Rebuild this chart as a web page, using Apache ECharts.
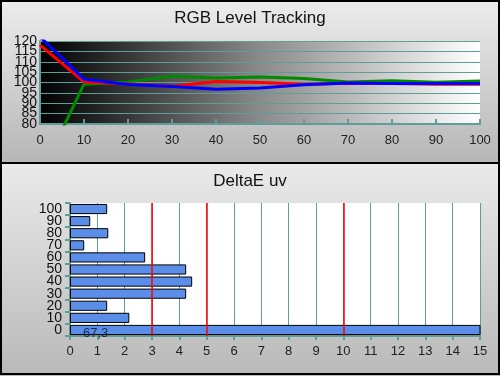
<!DOCTYPE html>
<html>
<head>
<meta charset="utf-8">
<script src="https://cdn.jsdelivr.net/npm/echarts@6/dist/echarts.min.js"></script>
<style>
  html, body { margin: 0; padding: 0; background: #fff; }
  #main { width: 500px; height: 376px; }
</style>
</head>
<body>
<div id="main"></div>
<script>
  // RGB level tracking (stimulus % -> level)
  var levels = [0, 10, 20, 30, 40, 50, 60, 70, 80, 90, 100];
  var redLevel = [118, 100.3, 99.3, 98.2, 100.5, 100, 99.2, 99.6, 99.5, 99.2, 99.2];
  var greenLevel = [55, 99.2, 100.3, 103, 102.2, 102.6, 101.9, 100.2, 100.9, 100.1, 100.7];
  var blueLevel = [122, 101.6, 99, 98.1, 96.8, 97.4, 98.9, 99.7, 99.5, 99.5, 99.5];
  // level tick labels, split in two sets so none get hidden as overlapping
  var levelTicksEven = [80, 90, 100, 110, 120];
  var levelTicksOdd = [85, 95, 105, 115];

  // DeltaE uv per level
  var deltaCats = ['0', '10', '20', '30', '40', '50', '60', '70', '80', '90', '100'];
  var deltaVals = [67.3, 2.17, 1.36, 4.25, 4.47, 4.25, 2.75, 0.52, 1.4, 0.74, 1.36];
  var deltaLimits = [3, 5, 10];

  var teal = '#5f9d98';
  var font = 'Liberation Sans, Arial, sans-serif';

  function lineSeries(data, color) {
    return {
      type: 'line',
      xAxisIndex: 0,
      yAxisIndex: 0,
      data: levels.map(function (l, i) { return [l, data[i]]; }),
      symbol: 'none',
      clip: true,
      lineStyle: { color: color, width: 3 },
      itemStyle: { color: color }
    };
  }

  function panelFill(top, bottom) {
    return new echarts.graphic.LinearGradient(0, 0, 0, 1, [
      { offset: 0, color: top },
      { offset: 1, color: bottom }
    ]);
  }

  function levelLabels(values) {
    return { fontFamily: font, fontSize: 14, color: '#111', margin: 3,
      customValues: values, showMinLabel: true, showMaxLabel: true, hideOverlap: false };
  }

  var chart = echarts.init(document.getElementById('main'));
  chart.setOption({
    animation: false,
    backgroundColor: '#ffffff',
    graphic: [
      { type: 'rect', z: -10, shape: { x: 0, y: 0, width: 500, height: 163 },
        style: { fill: panelFill('#ececec', '#b6b6b6') } },
      { type: 'rect', z: -10, shape: { x: 0, y: 163, width: 500, height: 213 },
        style: { fill: panelFill('#eaeaea', '#b9b9b9') } },
      { type: 'rect', z: 100, shape: { x: 1, y: 1, width: 498, height: 373 },
        style: { fill: null, stroke: '#000', lineWidth: 2 } },
      { type: 'line', z: 100, shape: { x1: 0, y1: 163, x2: 500, y2: 163 },
        style: { stroke: '#000', lineWidth: 2 } }
    ],
    title: [
      { text: 'RGB Level Tracking', left: 'center', top: 5,
        textStyle: { fontFamily: font, fontSize: 17, fontWeight: 'normal', color: '#111' } },
      { text: 'DeltaE uv', left: 'center', top: 168,
        textStyle: { fontFamily: font, fontSize: 17, fontWeight: 'normal', color: '#111' } }
    ],
    grid: [
      { left: 40, right: 20, top: 41, height: 83, show: true, borderWidth: 0,
        backgroundColor: new echarts.graphic.LinearGradient(0, 0, 1, 0, [
          { offset: 0, color: '#000000' },
          { offset: 0.5, color: '#8a8a8a' },
          { offset: 1, color: '#ffffff' }
        ]) },
      { left: 70, right: 20, top: 203, height: 133, show: true, borderWidth: 0,
        backgroundColor: '#ffffff' }
    ],
    xAxis: [
      { type: 'value', gridIndex: 0, min: 0, max: 100, interval: 10,
        axisLine: { show: true, lineStyle: { color: teal, width: 2 } },
        axisTick: { show: true, inside: true, length: 5, lineStyle: { color: teal, width: 2 } },
        axisLabel: { fontFamily: font, fontSize: 13, color: '#222', margin: 10,
          showMinLabel: true, showMaxLabel: true, hideOverlap: false },
        splitLine: { show: false } },
      { type: 'value', gridIndex: 1, min: 0, max: 15, interval: 1,
        axisLine: { show: true, lineStyle: { color: teal, width: 2 } },
        axisTick: { show: true, length: 4, lineStyle: { color: teal, width: 2 } },
        axisLabel: { fontFamily: font, fontSize: 13, color: '#222', margin: 9,
          showMinLabel: true, showMaxLabel: true, hideOverlap: false },
        splitLine: { show: true, lineStyle: { color: teal, width: 1 } } }
    ],
    yAxis: [
      { type: 'value', gridIndex: 0, min: 80, max: 120, interval: 5,
        axisLine: { show: true, lineStyle: { color: teal, width: 2 } },
        axisTick: { show: false },
        axisLabel: levelLabels(levelTicksEven),
        splitLine: { show: true, lineStyle: { color: teal, width: 1 } } },
      { type: 'category', gridIndex: 1, data: deltaCats,
        axisLine: { show: true, lineStyle: { color: teal, width: 2 } },
        axisTick: { show: true, length: 5, lineStyle: { color: teal, width: 2 } },
        axisLabel: { fontFamily: font, fontSize: 14, color: '#111', margin: 8, interval: 0,
          hideOverlap: false },
        splitLine: { show: false } },
      { type: 'value', gridIndex: 0, min: 80, max: 120, interval: 5, position: 'left',
        axisLine: { show: false },
        axisTick: { show: false },
        axisLabel: levelLabels(levelTicksOdd),
        splitLine: { show: false } }
    ],
    series: [
      lineSeries(greenLevel, '#008a00'),
      lineSeries(redLevel, '#ff0000'),
      lineSeries(blueLevel, '#0000ff'),
      {
        type: 'bar',
        xAxisIndex: 1,
        yAxisIndex: 1,
        data: deltaVals,
        barCategoryGap: '16%',
        clip: true,
        itemStyle: { color: '#5b8ee8', borderColor: '#000', borderWidth: 1 },
        label: {
          show: true,
          formatter: function (p) { return p.dataIndex === 0 ? String(p.value).replace('.', ',') : ''; },
          position: 'insideLeft',
          offset: [8, 3],
          fontFamily: font, fontSize: 13, color: '#1a2a50'
        },
        markLine: {
          silent: true,
          symbol: 'none',
          label: { show: false },
          lineStyle: { color: '#ff0000', width: 1.5, type: 'solid' },
          data: deltaLimits.map(function (v) { return { xAxis: v }; })
        }
      }
    ]
  });
</script>
</body>
</html>
